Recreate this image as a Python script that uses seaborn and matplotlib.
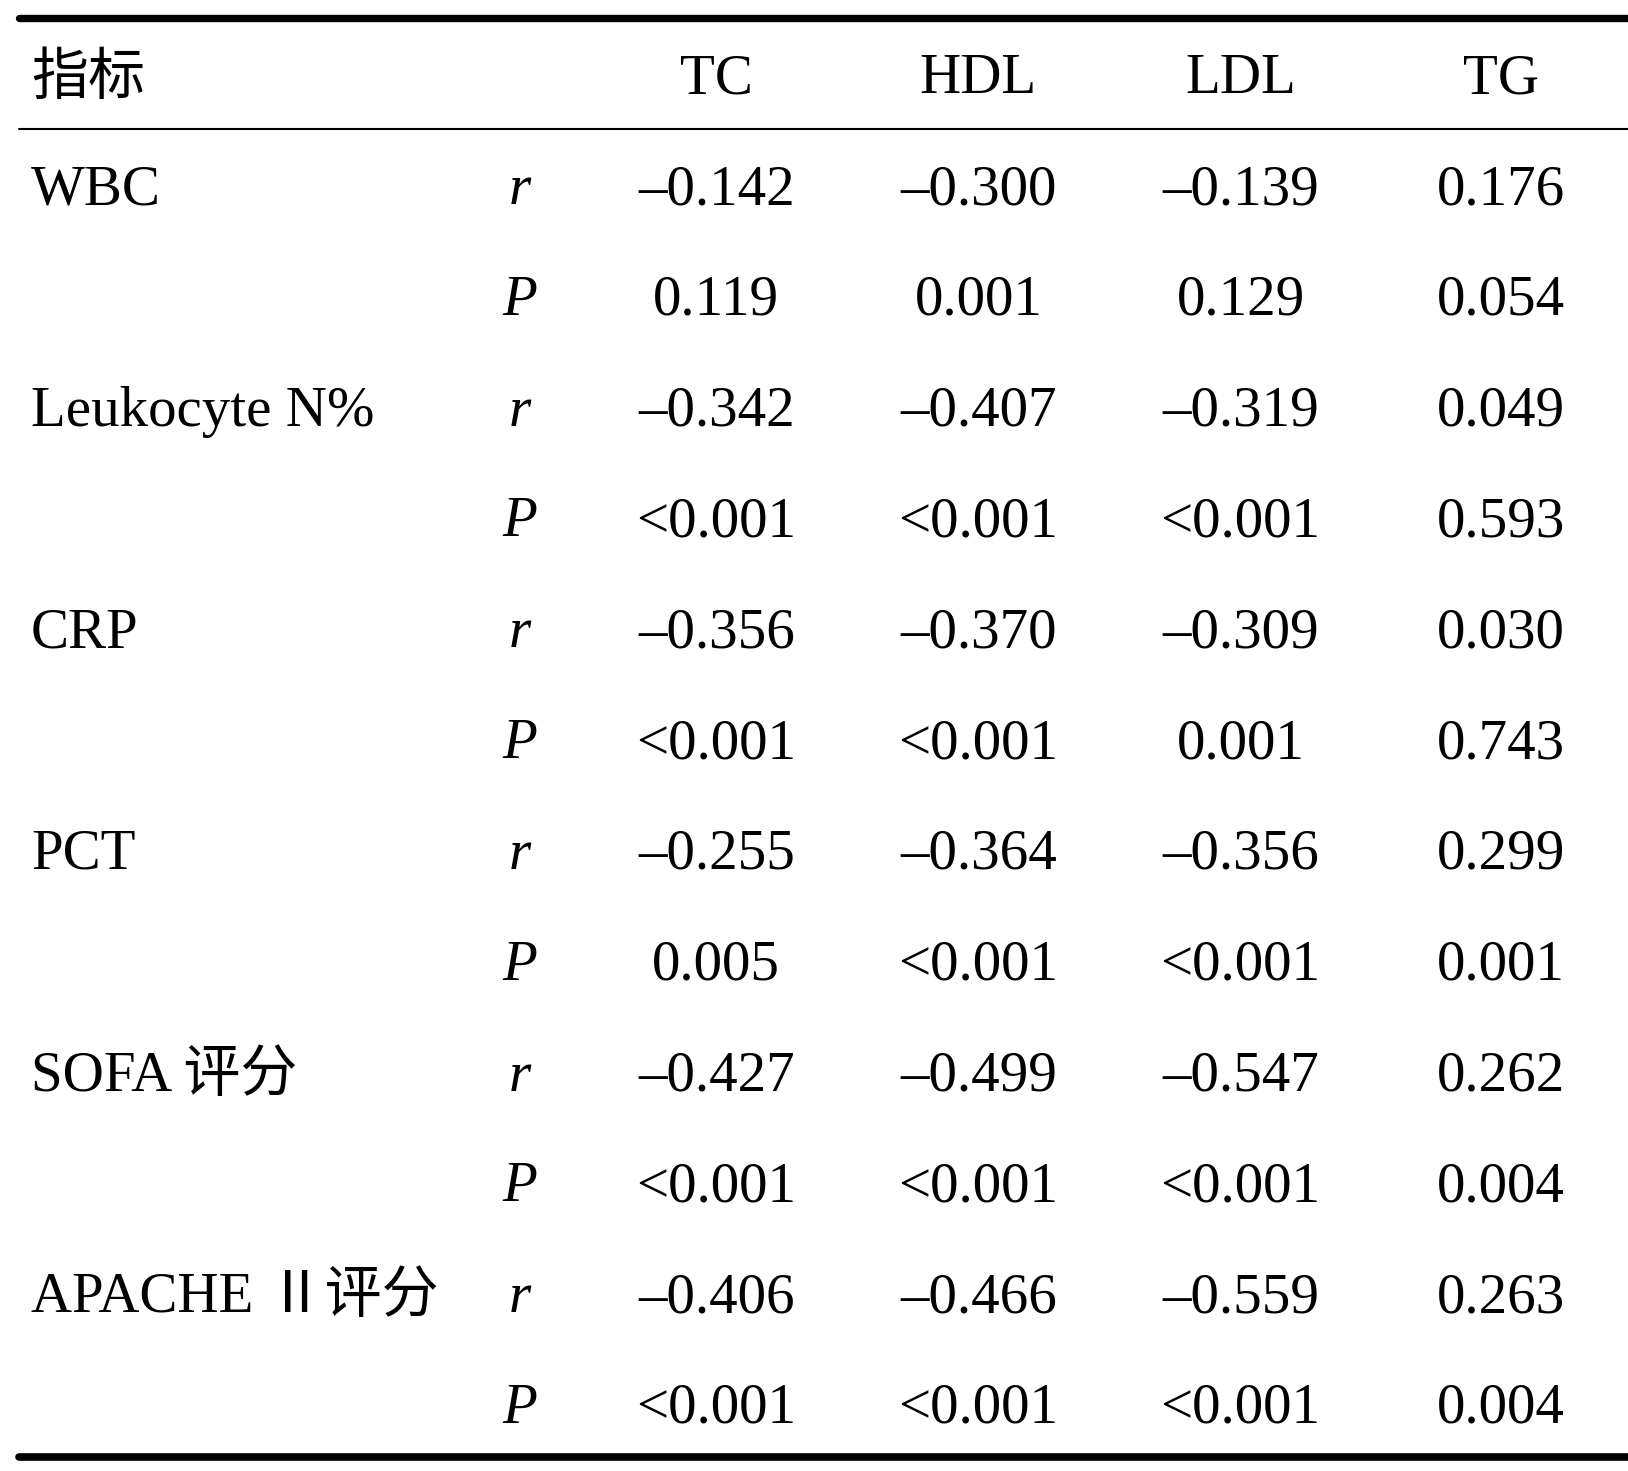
import matplotlib.pyplot as plt
import seaborn as sns
import pandas as pd

# Tabellendaten
columns = ['TC', 'HDL', 'LDL', 'TG']
indicators = ['WBC', 'Leukocyte N%', 'CRP', 'PCT', 'SOFA 评分', 'APACHE Ⅱ评分']
r_values = [
    ['–0.142', '–0.300', '–0.139', '0.176'],
    ['–0.342', '–0.407', '–0.319', '0.049'],
    ['–0.356', '–0.370', '–0.309', '0.030'],
    ['–0.255', '–0.364', '–0.356', '0.299'],
    ['–0.427', '–0.499', '–0.547', '0.262'],
    ['–0.406', '–0.466', '–0.559', '0.263'],
]
p_values = [
    ['0.119', '0.001', '0.129', '0.054'],
    ['<0.001', '<0.001', '<0.001', '0.593'],
    ['<0.001', '<0.001', '0.001', '0.743'],
    ['0.005', '<0.001', '<0.001', '0.001'],
    ['<0.001', '<0.001', '<0.001', '0.004'],
    ['<0.001', '<0.001', '<0.001', '0.004'],
]

# lange Tabelle: eine Zeile pro Statistik
rows = []
for i, name in enumerate(indicators):
    rows.append({'label': name, 'stat': 'r', 'vals': r_values[i]})
    rows.append({'label': '', 'stat': 'P', 'vals': p_values[i]})
df = pd.DataFrame(rows)
df['row'] = range(1, len(df) + 1)

sns.set_theme(style='white')
plt.rcParams['font.family'] = ['Liberation Serif', 'Noto Sans CJK SC', 'DejaVu Sans']
plt.rcParams['text.color'] = 'black'

fig = plt.figure(figsize=(16.28, 14.71), dpi=100)
ax = fig.add_axes([0, 0, 1, 1])
ax.set_xlim(0, 1)
ax.set_ylim(12.6, -0.675)
ax.axis('off')

fs = 41
dy = 0.04  # Text leicht nach unten
x_label = 0.019
x_stat = 0.319
x_cols = [0.44, 0.601, 0.762, 0.922]

# Kopfzeile
ax.text(x_label, dy, '指标', fontsize=fs, ha='left', va='center')
for x, c in zip(x_cols, columns):
    ax.text(x, dy, c, fontsize=fs, ha='center', va='center')

# Tabellenkörper
for _, rw in df.iterrows():
    y = rw['row'] + dy
    if rw['label']:
        ax.text(x_label, y, rw['label'], fontsize=fs, ha='left', va='center')
    ax.text(x_stat, y, rw['stat'], fontsize=fs, style='italic', ha='center', va='center')
    for x, v in zip(x_cols, rw['vals']):
        ax.text(x, y, v, fontsize=fs, ha='center', va='center')

# Linien (Dreilinientabelle)
ax.axhline(-0.515, xmin=0.0115, xmax=1, color='black', lw=5.3)
ax.axhline(0.487, xmin=0.0115, xmax=1, color='black', lw=1.5)
ax.axhline(12.47, xmin=0.0115, xmax=1, color='black', lw=5.5)

fig.savefig('out.png', dpi=100)
